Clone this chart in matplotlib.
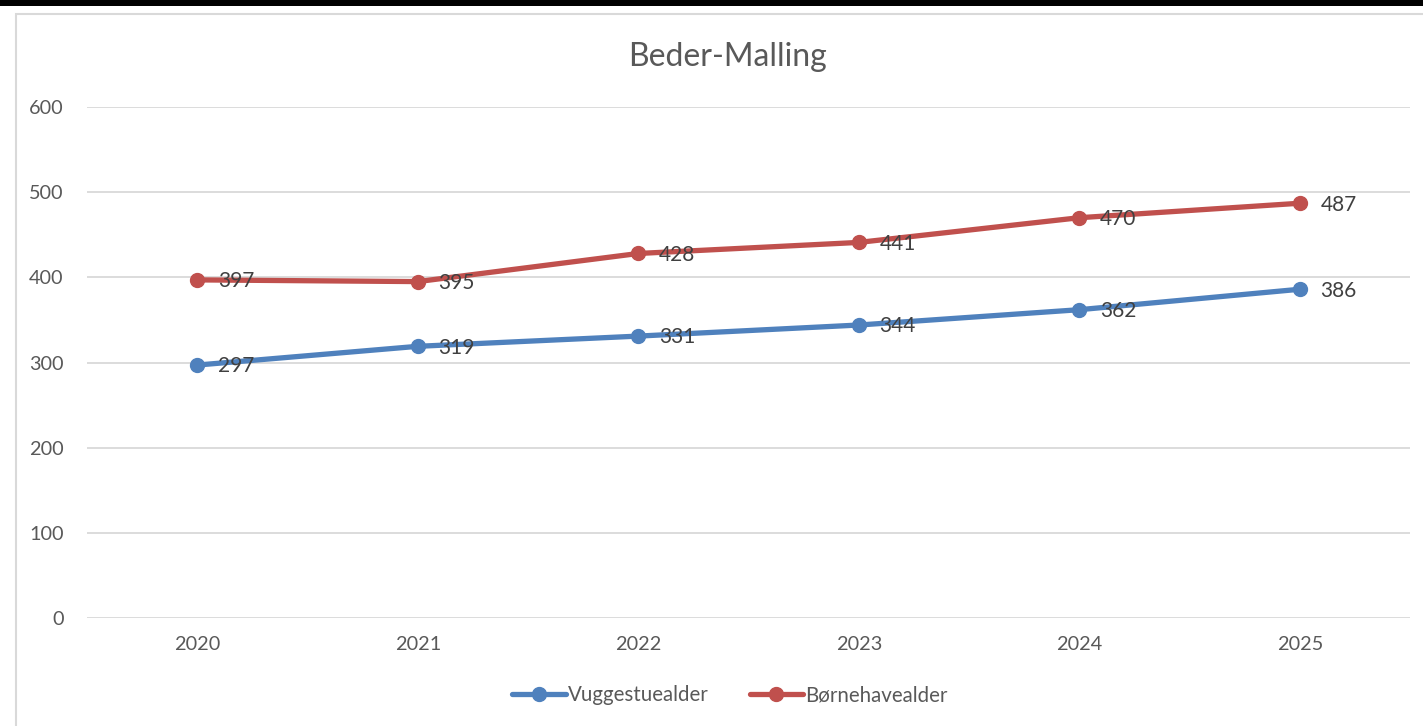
import matplotlib.pyplot as plt
from matplotlib.patches import Rectangle

years = ['2020', '2021', '2022', '2023', '2024', '2025']
vuggestue = [297, 319, 331, 344, 362, 386]
boernehave = [397, 395, 428, 441, 470, 487]

W, H = 1423, 726
plt.rcParams['font.family'] = ['Lato', 'DejaVu Sans']

fig = plt.figure(figsize=(W / 100, H / 100), dpi=100)
fig.patch.set_facecolor('white')

# dark strip at the very top and the chart frame
fig.add_artist(Rectangle((0, 1 - 6 / H), 1, 6 / H, transform=fig.transFigure,
                         facecolor='black', edgecolor='none'))
fig.add_artist(Rectangle((16 / W, -0.01), 1.1, 1 - 14 / H + 0.01, transform=fig.transFigure,
                         facecolor='none', edgecolor='#d9d9d9', lw=1.5))

ax = fig.add_axes([87 / W, 1 - 618 / H, (1410 - 87) / W, (618 - 107) / H])
x = range(len(years))
blue, red = '#4f81bd', '#c0504d'
ax.plot(x, vuggestue, color=blue, lw=3.8, marker='o', ms=10, label='Vuggestuealder',
        solid_capstyle='round', zorder=3)
ax.plot(x, boernehave, color=red, lw=3.8, marker='o', ms=10, label='Børnehavealder',
        solid_capstyle='round', zorder=3)

for xs, ys in ((x, vuggestue), (x, boernehave)):
    for xi, yi in zip(xs, ys):
        ax.annotate(str(yi), (xi, yi), xytext=(15, -1), textcoords='offset points',
                    ha='left', va='center', fontsize=15, color='#404040', zorder=4)

ax.set_xlim(-0.5, 5.5)
ax.set_ylim(0, 600)
ax.set_yticks(range(0, 601, 100))
ax.set_xticks(list(x))
ax.set_xticklabels(years)
ax.grid(axis='y', color='#d9d9d9', lw=1.3)
ax.set_axisbelow(True)
for s in ax.spines.values():
    s.set_visible(False)
ax.tick_params(length=0, labelsize=14.3, labelcolor='#595959')
ax.tick_params(axis='y', pad=17)
ax.tick_params(axis='x', pad=13)

fig.text(727 / W, 1 - 57 / H, 'Beder-Malling', ha='center', va='center',
         fontsize=23, color='#595959')

fig.legend(loc='center', bbox_to_anchor=(730 / W, 1 - 695 / H), ncol=2, frameon=False,
           fontsize=14.8, labelcolor='#595959', handlelength=2.6, columnspacing=2.0,
           handletextpad=0.1)

fig.savefig('out.png', dpi=100)
